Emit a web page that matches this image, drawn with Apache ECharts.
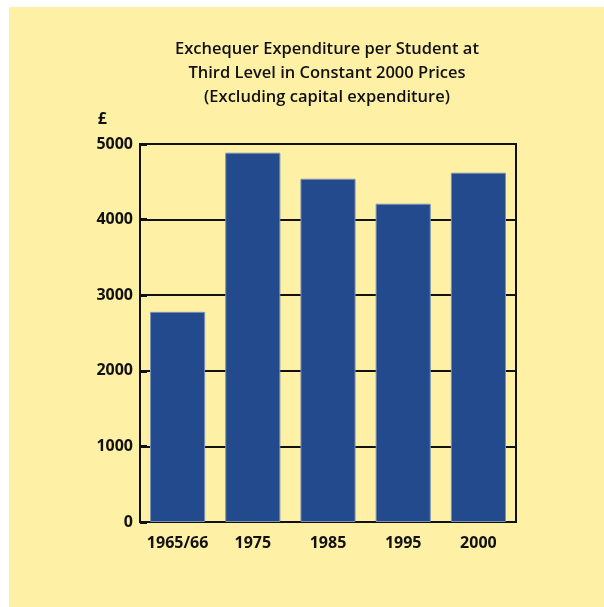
<!DOCTYPE html>
<html>
<head>
<meta charset="utf-8">
<script src="https://cdn.jsdelivr.net/npm/echarts@6/dist/echarts.min.js"></script>
<style>
  body { margin: 0; background: #ffffff; }
  #chart { position: absolute; left: 9px; top: 7px; width: 595px; height: 600px; }
</style>
</head>
<body>
<div id="chart"></div>
<script>
// values (£ per student, constant 2000 prices)
var years = ["1965/66", "1975", "1985", "1995", "2000"];
var spend = [2780, 4885, 4540, 4210, 4620];
var yTicks = { min: 0, max: 5000, step: 1000 };

var titleText = "Exchequer Expenditure per Student at\nThird Level in Constant 2000 Prices\n(Excluding capital expenditure)";

var chart = echarts.init(document.getElementById("chart"));
chart.setOption({
  backgroundColor: "#fef1a6",
  animation: false,
  textStyle: { fontFamily: "Open Sans" },
  title: {
    text: titleText,
    left: 313,
    top: 25,
    textAlign: "center",
    textStyle: {
      fontSize: 16.5,
      fontWeight: 600,
      lineHeight: 24,
      color: "#111",
      fontFamily: "Open Sans",
    },
  },
  grid: {
    left: 131,
    right: 88,
    top: 137,
    bottom: 85,
    show: true,
    borderColor: "#111",
    borderWidth: 2,
    backgroundColor: "transparent",
  },
  xAxis: {
    type: "category",
    data: years,
    axisTick: { show: false },
    axisLine: { lineStyle: { color: "#111", width: 2 } },
    axisLabel: {
      interval: 0,
      color: "#111",
      fontSize: 16,
      fontWeight: "bold",
      margin: 13,
    },
  },
  yAxis: {
    type: "value",
    min: yTicks.min,
    max: yTicks.max,
    interval: yTicks.step,
    name: "£",
    nameLocation: "end",
    nameGap: 17,
    nameTextStyle: {
      color: "#111",
      fontSize: 16,
      fontWeight: "bold",
      align: "right",
      padding: [0, 33, 0, 0],
    },
    axisLine: { show: true, lineStyle: { color: "#111", width: 2 } },
    axisTick: { show: true, inside: true, length: 7, lineStyle: { color: "#111", width: 3 } },
    splitLine: { lineStyle: { color: "#111", width: 2 } },
    axisLabel: {
      color: "#111",
      fontSize: 16,
      fontWeight: "bold",
      margin: 7,
      formatter: function (v) { return String(v); },
    },
  },
  series: [
    {
      type: "bar",
      data: spend,
      barCategoryGap: "26.7%",
      itemStyle: {
        color: "#234a8c",
        borderColor: "#7d90b2",
        borderWidth: 1,
      },
    },
  ],
});
</script>
</body>
</html>
